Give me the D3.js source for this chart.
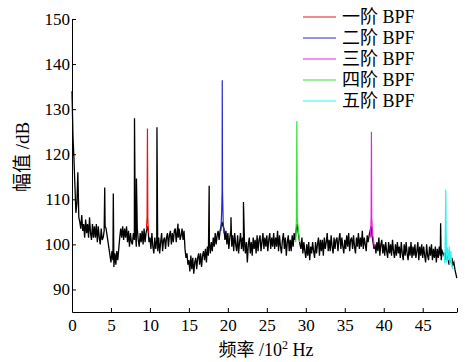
<!DOCTYPE html>
<html>
<head>
<meta charset="utf-8">
<script src="https://cdn.jsdelivr.net/npm/d3@7"></script>
<style>
    body { margin: 0; background: #fff; }
    text { font-family: "Liberation Serif", "Noto Sans CJK SC", serif; fill: #000; }
</style>
</head>
<body>
<div id="plot"></div>
<script>
/* Step 1
 * Data
 */
// =================================
// spectrum level (dB), sampled every 0.125 x 10^2 Hz starting at 0
var freqStep = 0.125;
var level = [
    134, 124, 119, 113, 107, 109, 116, 106,
    105, 103.5, 106.5, 103, 104.5, 101.5, 105.5, 102.5,
    104.5, 101.5, 106, 102.5, 101, 104.5, 101.5, 104,
    101.5, 104.5, 100.5, 104, 101.5, 100, 103.5, 101,
    101.5, 103, 104, 103.5, 102, 100.5, 99, 97.5,
    96, 98.5, 96.5, 95, 98, 95.5, 98.5, 96.5,
    99, 101.5, 103.5, 101.5, 104, 101, 103.5, 101.5,
    104, 100.5, 103, 99.5, 102.5, 100.5, 100, 102.5,
    101, 103, 99.5, 103.5, 101, 99.5, 102.5, 100.5,
    103, 100, 103.5, 100.5, 102.5, 103.5, 104, 100.5,
    101.5, 99, 102.5, 99.5, 98, 101.5, 99, 101,
    98.5, 101.5, 98, 100.5, 102.5, 98.5, 101, 101.5,
    99, 101.5, 102.5, 99.5, 102, 103, 100, 102.5,
    100.5, 103, 103.5, 100.5, 103, 101.5, 103.5, 101,
    102, 103.5, 101, 103, 99, 97, 98, 95.5,
    96.5, 94, 97.5, 94.5, 97, 93.5, 96, 97,
    94.5, 97, 98, 95.5, 98, 95, 97.5, 98.5,
    96.5, 99, 96, 99.5, 97.5, 100.5, 98, 100.5,
    98.5, 101.5, 99.5, 102.5, 100, 102, 103, 101,
    103, 104, 105, 104, 103.5, 101, 103, 100,
    102.5, 99, 101.5, 103, 99.5, 102, 98.5, 102.5,
    100, 98.5, 102, 98, 100.5, 102.5, 99, 101.5,
    98.5, 101, 98, 100.5, 96, 100, 101.5, 98,
    100.5, 97.5, 101.5, 99, 101, 98, 102, 98.5,
    101, 102, 98.5, 100.5, 102.5, 99, 101.5, 99.5,
    102, 98.5, 101, 102.5, 99, 101.5, 99.5, 102.5,
    99, 101.5, 99.5, 103, 98.5, 102, 99.5, 98,
    101, 102.5, 99, 101.5, 97.5, 100.5, 102, 98.5,
    101, 98.5, 102, 99.5, 102.5, 101, 103, 104.5,
    103, 101.5, 100, 99, 101.5, 98, 100.5, 98.5,
    97, 100, 97.5, 100.5, 96.5, 99.5, 98, 100.5,
    98.5, 97, 100.5, 98, 100, 101.5, 97.5, 101,
    98.5, 101, 97.5, 101.5, 99, 100.5, 102.5, 98.5,
    101, 98.5, 102, 99.5, 98, 101.5, 99, 101,
    101.5, 98.5, 101, 102.5, 99, 101.5, 99.5, 98,
    101, 99, 102, 99.5, 102.5, 98.5, 101, 101.5,
    99, 102, 99.5, 98, 101.5, 99.5, 102.5, 99,
    101.5, 99.5, 103, 99, 101.5, 100, 98.5, 102,
    100.5, 102, 103, 104, 102, 100.5, 99, 100,
    98, 100.5, 98.5, 101.5, 97.5, 100, 101, 98,
    100, 97.5, 100.5, 98.5, 97, 100.5, 98, 100,
    97.5, 101, 98.5, 97, 100, 97.5, 100.5, 98,
    99.5, 97, 100.5, 98, 96.5, 100, 97.5, 100.5,
    98, 96.5, 99.5, 97.5, 100.5, 97, 99.5, 97.5,
    100, 97, 98.5, 100.5, 96.5, 99.5, 97.5, 100,
    97, 99.5, 97.5, 96, 100, 97.5, 96.5, 99.5,
    97.5, 100, 96.5, 99, 97, 99.5, 96, 99,
    97, 99.5, 97.5, 96.5, 98.5, 98, 97.5, 98,
    96.5, 98, 97, 95.5, 97.5, 96, 97, 95.5,
    96, 94.5, 93.5, 92.5
];

// narrow black lines sticking out of the noise: [freq, dB]
var blackSpikes = [
    [4.2, 112.6], [5.3, 111.3], [8.02, 128], [8.27, 114.6],
    [10.9, 126], [13.6, 104.6], [17.6, 113], [20.4, 106],
    [22.0, 109.4], [47.3, 104.7]
];

// blade passing frequency harmonics: [freq, dB]
var bpf1 = [[9.55, 103.5], [9.63, 106], [9.68, 125.7], [9.73, 106], [9.8, 102.5]];
var bpf2 = [[19.1, 103], [19.2, 107], [19.26, 112], [19.28, 136.4], [19.31, 112], [19.4, 105], [19.5, 102.5]];
var bpf3 = [[38.3, 101.5], [38.38, 106], [38.42, 125], [38.46, 106], [38.6, 102], [38.8, 99.5]];
var bpf4 = [[28.7, 100.5], [28.8, 106], [28.85, 127.3], [28.9, 106], [29.0, 104], [29.2, 100.5]];
var bpf5 = [[47.75, 98], [47.85, 95.8], [47.96, 112.1], [48.05, 96], [48.15, 99.3], [48.3, 96.5],
    [48.4, 99.5], [48.5, 95.5], [48.6, 98.5], [48.75, 95], [48.9, 94.5]];

var legendNames = ["一阶 BPF", "二阶 BPF", "三阶 BPF", "四阶 BPF", "五阶 BPF"];
var legendColors = ["#e01818", "#2828d0", "#e028e0", "#30e030", "#30f0f0"];
var bpfSeries = [bpf1, bpf2, bpf3, bpf4, bpf5];

var xTicks = [0, 5, 10, 15, 20, 25, 30, 35, 40, 45];
var yTicks = [90, 100, 110, 120, 130, 140, 150];

/* Step 2
 * Workspace
 */
// =================================
var svgWidth = 465;
var svgHeight = 362;

var margin = { top: 19, right: 8, bottom: 50, left: 72 };
var width = svgWidth - margin.left - margin.right;
var height = svgHeight - margin.top - margin.bottom;

var svg = d3.select("#plot")
    .append("svg")
    .attr("width", svgWidth)
    .attr("height", svgHeight);

svg.append("rect")
    .attr("width", svgWidth)
    .attr("height", svgHeight)
    .attr("fill", "#fff");

var chartGroup = svg.append("g")
    .attr("transform", `translate(${margin.left}, ${margin.top})`);

/* Step 3
 * Prep the data - merge spikes into the sampled level
 */
// =================================
var spectrum = level.map((d, i) => [i * freqStep, d]);
blackSpikes.forEach(s => spectrum.push(s));
spectrum.sort((a, b) => a[0] - b[0]);

/* Step 4
 * Scales and axes
 */
// =================================
var xMax = 49.4;
var xScale = d3.scaleLinear()
    .domain([0, xMax])
    .range([0, width]);

var yScale = d3.scaleLinear()
    .domain([85, 150])
    .range([height, 0]);

// ticks point inward
var xAxis = d3.axisBottom(xScale)
    .tickValues(xTicks.concat([xMax]))
    .tickFormat(d => xTicks.includes(d) ? d : "")
    .tickSizeInner(-4)
    .tickSizeOuter(0)
    .tickPadding(6);

var yAxis = d3.axisLeft(yScale)
    .tickValues(yTicks)
    .tickSizeInner(-4)
    .tickSizeOuter(0)
    .tickPadding(3);

var xAxisG = chartGroup.append("g")
    .attr("transform", `translate(0, ${height})`)
    .call(xAxis);

var yAxisG = chartGroup.append("g")
    .call(yAxis);

[xAxisG, yAxisG].forEach(g => {
    g.selectAll("path, line").attr("stroke", "#000").attr("stroke-width", 1);
    g.selectAll("text").style("font-size", "17px").attr("fill", "#000");
});
xAxisG.selectAll("text").attr("dy", "0.75em");
yAxisG.selectAll("text").attr("dx", "1px");

/* Step 5
 * Draw the lines
 */
// =================================
var lineGenerator = d3.line()
    .x(d => xScale(d[0]))
    .y(d => yScale(d[1]));

chartGroup.append("path")
    .attr("d", lineGenerator(spectrum))
    .attr("fill", "none")
    .attr("stroke", "#000")
    .attr("stroke-width", 1.3);

chartGroup.selectAll(".bpf")
    .data(bpfSeries)
    .enter()
    .append("path")
    .attr("class", "bpf")
    .attr("d", d => lineGenerator(d))
    .attr("fill", "none")
    .attr("stroke", (d, i) => legendColors[i])
    .attr("stroke-width", 1.2);

/* Step 6
 * Labels and legend
 */
// =================================
var xLabel = svg.append("text")
    .attr("x", 266)
    .attr("y", 356)
    .attr("text-anchor", "middle")
    .style("font-size", "18px");
xLabel.append("tspan").text("频率 /10");
xLabel.append("tspan").attr("dy", -7).style("font-size", "12px").text("2");
xLabel.append("tspan").attr("dy", 7).text(" Hz");

svg.append("text")
    .attr("transform", "translate(29, 157) rotate(-90)")
    .attr("text-anchor", "middle")
    .style("font-size", "19px")
    .text("幅值 /dB");

var legend = svg.append("g")
    .attr("transform", "translate(303, 17)");

var legendRows = legend.selectAll("g")
    .data(legendNames)
    .enter()
    .append("g")
    .attr("transform", (d, i) => `translate(0, ${i * 21})`);

legendRows.append("line")
    .attr("x1", 0)
    .attr("x2", 33)
    .attr("stroke", (d, i) => legendColors[i])
    .attr("stroke-width", 1.2);

legendRows.append("text")
    .attr("x", 39)
    .attr("y", 6)
    .style("font-size", "18px")
    .text(d => d);
</script>
</body>
</html>
